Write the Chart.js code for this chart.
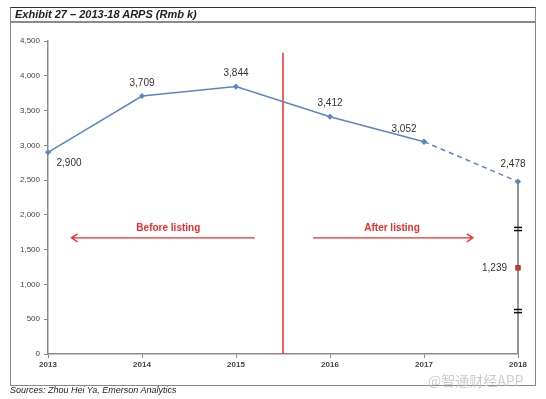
<!DOCTYPE html>
<html>
<head>
<meta charset="utf-8">
<script src="https://cdn.jsdelivr.net/npm/chart.js@4/dist/chart.umd.min.js"></script>
<style>
  html, body { margin: 0; padding: 0; background: #fff; }
  body { width: 546px; height: 399px; position: relative; overflow: hidden; font-family: Arial, "Liberation Sans", sans-serif; }
  #chart { position: absolute; left: 0; top: 0; }
  .frame { position: absolute; left: 10px; top: 7px; width: 524px; height: 377px; border: 1.5px solid #8a8a8a; border-top: 1.5px solid #333; pointer-events: none; }
  .title { position: absolute; left: 0; top: 0; right: 0; height: 13px; border-bottom: 2px solid #8a8a8a; font: italic bold 11px Arial, "Liberation Sans", sans-serif; color: #222; padding-left: 4px; line-height: 13px; }
  .source { position: absolute; left: 10px; top: 385px; font: italic 9px Arial, "Liberation Sans", sans-serif; color: #222; }
  .mark { position: absolute; left: 428px; top: 370px; font: 14px "Noto Sans CJK SC", sans-serif; color: rgba(190,190,190,0.8); }
</style>
</head>
<body>
<canvas id="chart" width="546" height="399"></canvas>
<div class="frame"><div class="title">Exhibit 27 – 2013-18 ARPS (Rmb k)</div></div>
<div class="source">Sources: Zhou Hei Ya, Emerson Analytics</div>
<div class="mark">@智通财经APP</div>
<script>
const years = [2013, 2014, 2015, 2016, 2017, 2018];
const arps = [2900, 3709, 3844, 3412, 3052, 2478];
const listingYear = 2015.5;
const listingTop = 4330;
const halfValue = 1239;
const breakMarks = [1820, 1775, 640, 595];
const arrowBefore = { from: 2015.2, to: 2013.25, y: 1670, text: "Before listing", textX: 2014.28 };
const arrowAfter = { from: 2015.82, to: 2017.52, y: 1670, text: "After listing", textX: 2016.66 };
const labelSide = ["belowRight", "above", "above", "above", "aboveLeft", "above"];

const blue = "#5b86c4";
const red = "#ee2c2c";

const solid = years.slice(0, 5).map((x, i) => ({ x, y: arps[i] }));
const dashed = [{ x: years[4], y: arps[4] }, { x: years[5], y: arps[5] }];

function fmt(v) {
  return Number(v).toLocaleString("en-US");
}

const annotations = {
  id: "annotations",
  afterDatasetsDraw(chart) {
    const { ctx, scales: { x, y } } = chart;
    ctx.save();
    // value labels
    ctx.fillStyle = "#333";
    ctx.font = "10px Arial, 'Liberation Sans', sans-serif";
    ctx.textBaseline = "middle";
    years.forEach((yr, i) => {
      const px = x.getPixelForValue(yr);
      const py = y.getPixelForValue(arps[i]);
      const side = labelSide[i];
      ctx.textAlign = "center";
      if (side === "belowRight") ctx.fillText(fmt(arps[i]), px + 21, py + 11);
      else if (side === "aboveLeft") ctx.fillText(fmt(arps[i]), px - 20, py - 12);
      else if (i === 5) ctx.fillText(fmt(arps[i]), px - 5, py - 17);
      else ctx.fillText(fmt(arps[i]), px, py - 13);
    });
    ctx.textAlign = "right";
    ctx.fillText(fmt(halfValue), x.getPixelForValue(2018) - 11, y.getPixelForValue(halfValue));

    // arrows
    [arrowBefore, arrowAfter].forEach((a) => {
      const x1 = x.getPixelForValue(a.from);
      const x2 = x.getPixelForValue(a.to);
      const py = y.getPixelForValue(a.y);
      const dir = x2 > x1 ? 1 : -1;
      ctx.strokeStyle = red;
      ctx.lineWidth = 1.3;
      ctx.beginPath();
      ctx.moveTo(x1, py);
      ctx.lineTo(x2, py);
      ctx.moveTo(x2 - dir * 6, py - 4);
      ctx.lineTo(x2, py);
      ctx.lineTo(x2 - dir * 6, py + 4);
      ctx.stroke();
      ctx.fillStyle = red;
      ctx.font = "bold 10px Arial, 'Liberation Sans', sans-serif";
      ctx.textAlign = "center";
      ctx.fillText(a.text, x.getPixelForValue(a.textX), py - 10);
    });
    ctx.restore();
  },
};

// first dataset is drawn on top
new Chart(document.getElementById("chart"), {
  type: "line",
  data: {
    datasets: [
      {
        data: solid,
        borderColor: blue, borderWidth: 1.5,
        pointStyle: "rectRot", pointRadius: 2, backgroundColor: blue,
      },
      {
        data: dashed,
        borderColor: blue, borderWidth: 1.5, borderDash: [5, 4],
        pointStyle: "rectRot", pointRadius: 2, backgroundColor: blue,
      },
      {
        type: "scatter",
        data: [{ x: 2018, y: halfValue }],
        pointStyle: "rect", pointRadius: 3.2, backgroundColor: "#c0392b", borderColor: "#c0392b",
      },
      {
        type: "scatter",
        data: breakMarks.map((v) => ({ x: 2018, y: v })),
        pointStyle: "line", pointRadius: 4, borderColor: "#111", borderWidth: 1.5,
      },
      {
        data: [{ x: 2018, y: 0 }, { x: 2018, y: arps[5] }],
        borderColor: "#8a8a8a", borderWidth: 1.8, pointRadius: 0,
      },
      {
        data: [{ x: listingYear, y: 0 }, { x: listingYear, y: listingTop }],
        borderColor: red, borderWidth: 1.5, pointRadius: 0,
      },
    ],
  },
  options: {
    animation: false,
    responsive: false,
    datasets: { line: { clip: false }, scatter: { clip: false } },
    layout: { padding: { left: 0, right: 28, top: 41, bottom: 15 } },
    plugins: { legend: { display: false }, tooltip: { enabled: false } },
    scales: {
      x: {
        type: "linear", min: 2013, max: 2018,
        afterFit: (s) => { s.height = 30; },
        afterBuildTicks: (s) => { s.ticks = years.map((v) => ({ value: v })); },
        ticks: {
          callback: (v) => String(v), color: "#444", padding: 2,
          font: { size: 8, weight: "bold", family: "Arial, 'Liberation Sans', sans-serif" },
          maxRotation: 0,
        },
        grid: { drawOnChartArea: false, drawTicks: true, tickLength: 4, color: "#8a8a8a" },
        border: { color: "#8a8a8a", width: 1.5 },
      },
      y: {
        min: 0, max: 4500,
        afterFit: (s) => { s.width = 48; },
        ticks: {
          stepSize: 500, callback: (v) => fmt(v), color: "#444", padding: 4,
          font: { size: 8, family: "Arial, 'Liberation Sans', sans-serif" },
        },
        grid: { drawOnChartArea: false, drawTicks: true, tickLength: 4, color: "#8a8a8a" },
        border: { color: "#8a8a8a", width: 1.5 },
      },
    },
  },
  plugins: [annotations],
});
</script>
</body>
</html>
